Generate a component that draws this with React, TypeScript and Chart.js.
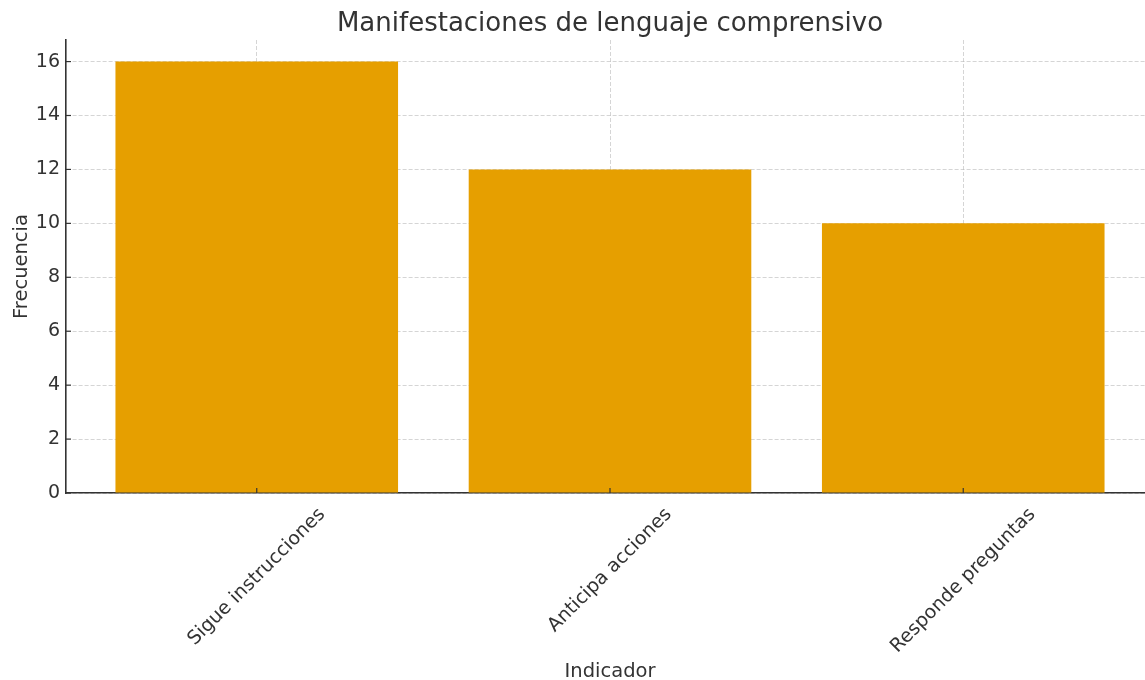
import React, { useEffect, useRef } from "react";
import { Chart, registerables } from "chart.js";

Chart.register(...registerables);

const TITLE = "Manifestaciones de lenguaje comprensivo";
const X_TITLE = "Indicador";
const Y_TITLE = "Frecuencia";
const categories = ["Sigue instrucciones", "Anticipa acciones", "Responde preguntas"];
const frequencies = [16, 12, 10];
const yTicks = [0, 2, 4, 6, 8, 10, 12, 14, 16];
const X_MIN = -0.54;
const X_MAX = 2.54;
const Y_MAX = 16.8;

const FONT = "'DejaVu Sans', sans-serif";
const TEXT = "#333333";
const BAR = "#E69F00";
const GRID = "rgba(185,185,185,0.6)";

export default function App() {
  const ref = useRef<HTMLCanvasElement>(null);

  useEffect(() => {
    const canvas = ref.current;
    if (!canvas) return;

    const plugin = {
      id: "mplDecor",
      afterDraw(chart: any) {
        const ctx = chart.ctx as CanvasRenderingContext2D;
        const { left, right, top, bottom } = chart.chartArea;
        const xs = chart.scales.x;
        const ys = chart.scales.y;
        ctx.save();
        ctx.strokeStyle = "#333333";
        ctx.lineWidth = 1.2;
        const line = (x1: number, y1: number, x2: number, y2: number) => {
          ctx.beginPath();
          ctx.moveTo(x1, y1);
          ctx.lineTo(x2, y2);
          ctx.stroke();
        };
        yTicks.forEach((v) => {
          const y = ys.getPixelForValue(v);
          line(left, y, left + 5, y);
        });
        categories.forEach((_, i) => {
          const x = xs.getPixelForValue(i);
          line(x, bottom, x, bottom - 5);
        });

        ctx.fillStyle = TEXT;
        ctx.font = `19px ${FONT}`;
        ctx.textAlign = "center";
        ctx.textBaseline = "middle";
        categories.forEach((c, i) => {
          const x = xs.getPixelForValue(i);
          const w = ctx.measureText(c).width;
          const h = 21;
          const cy = bottom + 11 + ((w + h) * Math.SQRT1_2) / 2;
          ctx.save();
          ctx.translate(x, cy);
          ctx.rotate(-Math.PI / 4);
          ctx.fillText(c, 0, 0);
          ctx.restore();
        });

        ctx.textBaseline = "alphabetic";
        ctx.font = `26px ${FONT}`;
        ctx.fillText(TITLE, (left + right) / 2, 31);
        ctx.font = `19.5px ${FONT}`;
        ctx.fillText(X_TITLE, (left + right) / 2, 677);
        ctx.save();
        ctx.translate(27, (top + bottom) / 2);
        ctx.rotate(-Math.PI / 2);
        ctx.fillText(Y_TITLE, 0, 0);
        ctx.restore();
        ctx.restore();
      },
    };

    const chart = new Chart(canvas, {
      type: "bar",
      data: {
        datasets: [
          {
            label: Y_TITLE,
            data: frequencies.map((v, i) => ({ x: i, y: v })),
            backgroundColor: BAR,
            borderWidth: 0,
            barPercentage: 0.8,
            categoryPercentage: 1,
          },
        ],
      },
      options: {
        responsive: false,
        animation: false,
        events: [],
        layout: { padding: { left: 0, right: 6, top: 40, bottom: 0 } },
        plugins: {
          legend: { display: false },
          tooltip: { enabled: false },
          title: { display: false },
        },
        scales: {
          x: {
            type: "linear",
            min: X_MIN,
            max: X_MAX,
            offset: false,
            z: 1,
            afterBuildTicks: (scale: any) => {
              scale.ticks = categories.map((_, i) => ({ value: i }));
            },
            afterFit: (scale: any) => {
              scale.height = 187;
            },
            ticks: { display: false },
            grid: {
              offset: false,
              color: GRID,
              lineWidth: 1,
              drawTicks: false,
            },
            border: { display: true, color: "#333333", width: 1.6, dash: [4, 2] },
            title: { display: false },
          },
          y: {
            type: "linear",
            min: 0,
            max: Y_MAX,
            z: 1,
            afterBuildTicks: (scale: any) => {
              scale.ticks = yTicks.map((v) => ({ value: v }));
            },
            afterFit: (scale: any) => {
              scale.width = 66;
            },
            ticks: {
              color: TEXT,
              font: { family: FONT, size: 19 },
              padding: 6,
            },
            grid: {
              color: GRID,
              lineWidth: 1,
              drawTicks: false,
            },
            border: { display: true, color: "#333333", width: 1.6, dash: [4, 2] },
            title: { display: false },
          },
        },
      },
      plugins: [plugin],
    } as any);

    return () => chart.destroy();
  }, []);

  return (
    <div
      style={{
        position: "fixed",
        left: 0,
        top: 0,
        width: 1145,
        height: 680,
        overflow: "hidden",
        background: "#ffffff",
      }}
    >
      <canvas ref={ref} width={1160} height={680} style={{ display: "block" }} />
    </div>
  );
}
